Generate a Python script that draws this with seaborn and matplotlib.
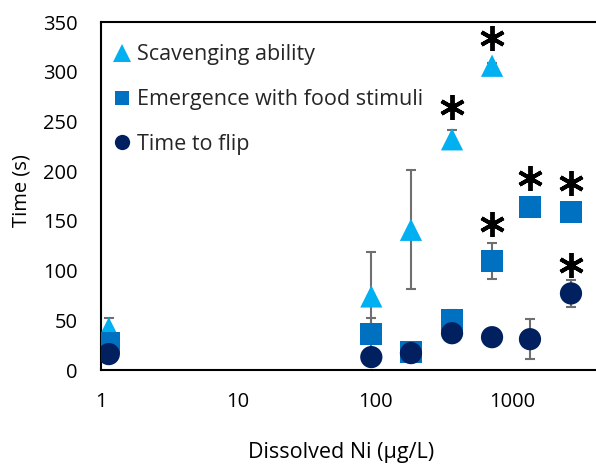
import numpy as np
import pandas as pd
import matplotlib
matplotlib.use("Agg")
import matplotlib.pyplot as plt
import seaborn as sns
from matplotlib.lines import Line2D
from matplotlib.ticker import FixedLocator, LogLocator, NullFormatter, FuncFormatter

# ---- data ----
series_names = ["Scavenging ability", "Emergence with food stimuli", "Time to flip"]

scav_x = [1.14, 94, 183, 365, 715]
scav_y = [42, 74, 141, 232, 306]
scav_err = [10, 45, 60, 9, 3]

emer_x = [1.14, 94, 183, 365, 715, 1353, 2695]
emer_y = [27, 36, 18, 50, 110, 164, 159]
emer_err = [4, 16, 4, 10, 18, 3, 3]

flip_x = [1.14, 94, 183, 365, 715, 1353, 2695]
flip_y = [16, 13, 17, 37, 33, 31, 77]
flip_err = [3, 3, 3, 3, 3, 20, 14]

sig_x = [365, 715, 715, 1353, 2695, 2695]
sig_y = [265, 334, 147, 193, 188, 106]

x_ticks = [1, 10, 100, 1000]
y_ticks = [0, 50, 100, 150, 200, 250, 300, 350]

colors = {"Scavenging ability": "#00B0F0",
          "Emergence with food stimuli": "#0070C0",
          "Time to flip": "#002060"}
markers = {"Scavenging ability": "^",
           "Emergence with food stimuli": "s",
           "Time to flip": "o"}

df = pd.concat([
    pd.DataFrame({"x": scav_x, "y": scav_y, "err": scav_err, "series": series_names[0]}),
    pd.DataFrame({"x": emer_x, "y": emer_y, "err": emer_err, "series": series_names[1]}),
    pd.DataFrame({"x": flip_x, "y": flip_y, "err": flip_err, "series": series_names[2]}),
], ignore_index=True)

sns.set_style("white")
plt.rcParams["font.family"] = ["Open Sans", "DejaVu Sans"]
FS = 14.5
LFS = 15.5

fig = plt.figure(figsize=(5.96, 4.65), dpi=100)
ax = fig.add_axes([101 / 596, 95 / 465, 495 / 596, 348 / 465])

# error bars (behind markers)
for name in series_names:
    sub = df[df["series"] == name]
    ax.errorbar(sub["x"], sub["y"], yerr=sub["err"], fmt="none",
                ecolor="#6f6f6f", elinewidth=1.5, capsize=3.5, capthick=1.5, zorder=2)

sns.scatterplot(data=df, x="x", y="y", hue="series", style="series",
                palette=colors, markers=markers, s=16 ** 2, linewidth=0,
                legend=False, ax=ax, zorder=3)

# significance asterisks
ax.plot(sig_x, sig_y, ls="none", marker=(6, 2, 0), markersize=18,
        markeredgewidth=2.8, color="black", zorder=4)

ax.set_xscale("log")
ax.set_xlim(1, 10 ** (495 / 137))
ax.set_ylim(0, 350)

ax.xaxis.set_major_locator(FixedLocator(x_ticks))
ax.xaxis.set_major_formatter(FuncFormatter(lambda v, p: f"{v:g}"))
ax.xaxis.set_minor_locator(LogLocator(base=10, subs=np.arange(2, 10)))
ax.xaxis.set_minor_formatter(NullFormatter())
ax.set_yticks(y_ticks)

ax.tick_params(axis="both", which="both", direction="in", color="black",
               labelsize=FS, labelcolor="black")
ax.tick_params(axis="both", which="major", length=5, width=1.2)
ax.tick_params(axis="x", which="minor", length=3.5, width=1.2)
ax.tick_params(axis="y", which="major", pad=17)
ax.tick_params(axis="x", which="major", pad=16)

for s in ["left", "bottom", "top"]:
    ax.spines[s].set_visible(True)
    ax.spines[s].set_color("black")
    ax.spines[s].set_linewidth(1.5)
ax.spines["right"].set_visible(False)

ax.set_xlabel("Dissolved Ni (µg/L)", fontsize=15.5, color="black", va="baseline")
ax.set_ylabel("Time (s)", fontsize=FS, color="black")
ax.xaxis.set_label_coords((341 - 101) / 495, -(458 - 370) / 348)
ax.yaxis.set_label_coords(-(101 - 32) / 495, (370 - 191) / 348)

handles = [
    Line2D([], [], ls="none", marker="^", markersize=12.5, color=colors[series_names[0]], markeredgewidth=0),
    Line2D([], [], ls="none", marker="s", markersize=10.5, color=colors[series_names[1]], markeredgewidth=0),
    Line2D([], [], ls="none", marker="o", markersize=11, color=colors[series_names[2]], markeredgewidth=0),
]
ax.legend(handles, series_names, loc="upper left",
          bbox_to_anchor=(4 / 495, (370 - 38) / 348),
          frameon=False, fontsize=LFS, handlelength=1.0, handletextpad=0.2,
          labelspacing=1.1, borderaxespad=0.0, borderpad=0.3)

fig.savefig("out.png", dpi=100)
